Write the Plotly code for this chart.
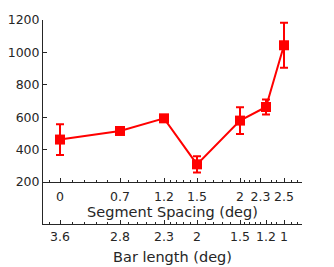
import plotly.graph_objects as go

# Data
spacing_labels = ["0", "0.7", "1.2", "1.5", "2", "2.3", "2.5"]
spacing_tickpos = [17, 77, 121, 154, 197, 217.5, 241]   # label positions on spacing axis
barlen_labels = ["3.6", "2.8", "2.3", "2", "1.5", "1.2", "1"]
x_pos = [17, 77, 121, 154, 197, 223, 241]          # underlying x values (axis units)
y_vals = [462, 515, 593, 309, 579, 663, 1044]
y_err = [95, 15, 15, 50, 83, 47, 139]
y_ticks = [200, 400, 600, 800, 1000, 1200]
minor_x = [6.3, 29.3, 41.7, 53.7, 64.7, 85.3, 94.3, 103, 112, 127.7, 133.7, 140.3,
           147, 162, 170.3, 179.7, 187.7, 201.3, 206.3, 212, 217, 228.7, 233.7,
           248.7, 254.3]

red = "#ff0000"
ink = "#262626"
font = dict(family="DejaVu Sans", size=12.5, color=ink)
tfont = dict(family="DejaVu Sans", size=14.5, color=ink)

fig = go.Figure()
fig.add_trace(go.Scatter(
    x=x_pos, y=y_vals, mode="lines+markers",
    line=dict(color=red, width=2),
    marker=dict(symbol="square", size=10, color=red),
    error_y=dict(type="data", array=y_err, color=red, thickness=2, width=4),
    showlegend=False, cliponaxis=False,
))
# invisible trace to activate second x axis
fig.add_trace(go.Scatter(x=x_pos, y=y_vals, xaxis="x2", mode="markers",
                         marker=dict(opacity=0), showlegend=False, hoverinfo="skip"))

frac = 42 / 204
y_lo = 200 - (42 / 162) * 1000

axis_common = dict(range=[0, 259], showline=True, linecolor=ink, linewidth=1,
                   ticks="inside", ticklen=4, tickcolor=ink, showgrid=False,
                   zeroline=False, tickfont=font, tickmode="array",
                   tickangle=0, automargin=False,
                   minor=dict(tickvals=minor_x, ticks="inside", ticklen=2, tickcolor=ink))

fig.update_layout(
    width=334, height=267,
    margin=dict(l=43, r=32, t=20, b=43, autoexpand=False),
    paper_bgcolor="white", plot_bgcolor="white",
    font=font,
    xaxis=dict(**axis_common, tickvals=spacing_tickpos, ticktext=spacing_labels,
               anchor="free", position=frac,
               side="bottom", ticklabelstandoff=3,
               title=dict(text="Segment Spacing (deg)", font=tfont, standoff=1)),
    xaxis2=dict(**axis_common, tickvals=x_pos, ticktext=barlen_labels, anchor="y",
                overlaying="x", side="bottom", ticklabelstandoff=1,
                title=dict(text="Bar length (deg)", font=tfont, standoff=8)),
    yaxis=dict(range=[y_lo, 1200], tickvals=y_ticks, showline=True, linecolor=ink,
               ticks="inside", ticklen=4, tickcolor=ink, showgrid=False, zeroline=False,
               tickfont=font, automargin=False),
)

fig.write_html("out.html", config={"displayModeBar": False},
               post_script="document.body.style.margin='0';document.body.style.overflow='hidden';")
